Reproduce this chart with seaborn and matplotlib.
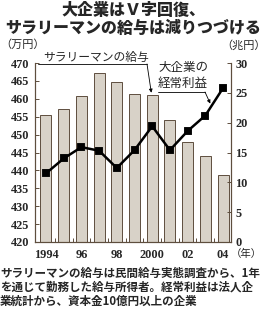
import matplotlib
matplotlib.use("Agg")
import matplotlib.pyplot as plt
from matplotlib.lines import Line2D
import seaborn as sns

# ---- data ----
years = ["1994", "1995", "1996", "1997", "1998", "1999", "2000", "2001", "2002", "2003", "2004"]
salary = [455.6, 457.2, 460.8, 467.3, 464.8, 461.3, 461.0, 454.1, 448.0, 444.0, 438.8]   # 万円 (bars, left axis)
profit = [11.5, 14.0, 15.9, 15.3, 12.4, 15.4, 19.4, 15.4, 18.6, 21.2, 25.8]              # 兆円 (line, right axis)
xtick_pos = [0, 2, 4, 6, 8, 10]
xtick_labels = ["1994", "96", "98", "2000", "02", "04"]
left_ticks = [420, 425, 430, 435, 440, 445, 450, 455, 460, 465, 470]
right_ticks = [0, 5, 10, 15, 20, 25, 30]

title1 = "大企業はＶ字回復、"
title2 = "サラリーマンの給与は減りつづける"
note_lines = ["サラリーマンの給与は民間給与実態調査から、1年",
              "を通じて勤務した給与所得者。経常利益は法人企",
              "業統計から、資本金10億円以上の企業"]

sns.set_style("white")
plt.rcParams['font.family'] = ['Noto Sans CJK JP', 'DejaVu Sans']

W, H = 266, 309
fig = plt.figure(figsize=(W / 100, H / 100), dpi=100)

def fp(px, py):
    return (px / W, 1 - py / H)

L, R, T, B = 35, 231, 63, 242
ax = fig.add_axes([L / W, 1 - B / H, (R - L) / W, (B - T) / H])
ax2 = ax.twinx()

bar_fill = "#d8d2c8"
edge = "#5e4e3e"

sns.barplot(x=years, y=salary, ax=ax, color=bar_fill, saturation=1,
            edgecolor=edge, linewidth=0.7, width=0.62, errorbar=None)
sns.pointplot(x=years, y=profit, ax=ax2, color="black", markers="s",
              linestyles="-", errorbar=None, markersize=4.4, linewidth=1.8)

ax.set_ylim(420, 470)
ax2.set_ylim(0, 30)
ax.set_xlim(-0.62, 10.45)
ax2.set_xlim(-0.62, 10.45)

for a in (ax, ax2):
    a.set_xlabel("")
    a.set_ylabel("")
    a.spines["top"].set_visible(False)
    for s in a.spines.values():
        s.set_color(edge)
        s.set_linewidth(0.8)

tick_font = dict(family="Liberation Serif", weight="bold", size=8.8)

ax.set_yticks(left_ticks)
ax.set_yticklabels([str(v) for v in left_ticks], **tick_font)
ax.tick_params(axis="y", direction="in", length=3, width=0.7, color=edge, pad=4, left=True)

ax2.set_yticks(right_ticks)
ax2.set_yticklabels([str(v) for v in right_ticks], **tick_font)
ax2.tick_params(axis="y", direction="in", length=3, width=0.7, color=edge, pad=3, right=True)

ax.set_xticks(xtick_pos)
ax.set_xticklabels(xtick_labels, **tick_font)
ax.set_xticks([i + 0.5 for i in range(10)], minor=True)
ax.tick_params(axis="x", which="major", length=0, pad=5, bottom=True)
ax.tick_params(axis="x", which="minor", direction="in", length=3, width=0.7, color=edge, bottom=True)
ax2.tick_params(axis="x", which="both", length=0, labelbottom=False, bottom=False, top=False)
ax2.grid(False)
ax.grid(False)

# ---- titles and units ----
fig.text(*fp(133, 10), title1, ha="center", va="center", fontsize=11.5, fontweight="heavy")
fig.text(*fp(133, 27.5), title2, ha="center", va="center", fontsize=11.5, fontweight="heavy")
fig.text(*fp(0, 45), "（万円）", ha="left", va="center", fontsize=8)
fig.text(*fp(266, 45), "（兆円）", ha="right", va="center", fontsize=8)
fig.text(*fp(231, 254), "（年）", ha="left", va="center", fontsize=7.5)

# ---- annotations ----
fig.text(*fp(43, 57), "サラリーマンの給与", ha="left", va="center", fontsize=8.5)
fig.add_artist(Line2D([38 / W, 147 / W], [1 - 64 / H, 1 - 64 / H], color="black", lw=0.6,
                      transform=fig.transFigure))
ax.annotate("", xy=(5.95, 461.7), xycoords="data", xytext=fp(147, 64), textcoords="figure fraction",
            arrowprops=dict(arrowstyle="-|>", lw=0.6, color="black", mutation_scale=5,
                            shrinkA=0, shrinkB=0))

fig.text(*fp(158, 67.5), "大企業の", ha="left", va="center", fontsize=9)
fig.text(*fp(158, 83), "経常利益", ha="left", va="center", fontsize=9)
fig.add_artist(Line2D([158 / W, 205 / W], [1 - 92 / H, 1 - 92 / H], color="black", lw=0.6,
                      transform=fig.transFigure))
ax2.annotate("", xy=(9.28, 23.2), xycoords="data", xytext=fp(205, 92), textcoords="figure fraction",
             arrowprops=dict(arrowstyle="-|>", lw=0.6, color="black", mutation_scale=5,
                             shrinkA=0, shrinkB=0))

# ---- footnote ----
for i, line in enumerate(note_lines):
    fig.text(*fp(0, 273 + 14 * i), line, ha="left", va="center", fontsize=8.3, fontweight="bold")

fig.savefig("out.png", dpi=100)
